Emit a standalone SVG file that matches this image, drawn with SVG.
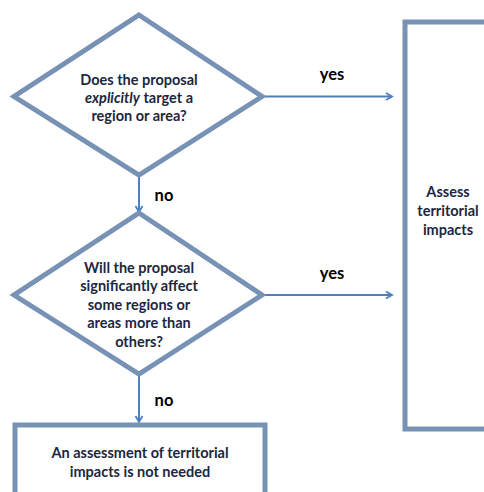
<svg xmlns="http://www.w3.org/2000/svg" width="484" height="492" viewBox="0 0 484 492">
<style>
.shape{fill:#fff;stroke:#7892b5;stroke-width:5}
.conn{stroke:#4f7fbd;stroke-width:2;fill:none;marker-end:url(#arr)}
.t{font-family:Lato,"Liberation Sans",sans-serif;font-weight:bold;font-size:14.5px;fill:#1c2740;text-anchor:middle}
.lbl{font-family:Lato,"Liberation Sans",sans-serif;font-weight:bold;font-size:16.5px;fill:#000;text-anchor:middle}
</style>
<defs>
<marker id="arr" markerWidth="10" markerHeight="10" refX="8" refY="5" orient="auto" markerUnits="userSpaceOnUse">
<polyline points="2,1.5 8,5 2,8.5" fill="none" stroke="#4f7fbd" stroke-width="1.8"/>
</marker>
</defs>
<rect width="484" height="492" fill="#fff"/>
<g id="connectors">
<line class="conn" x1="139" y1="176" x2="139" y2="212"/>
<line class="conn" x1="139" y1="375" x2="139" y2="422"/>
<line class="conn" x1="262" y1="96.5" x2="392" y2="96.5"/>
<line class="conn" x1="262" y1="295" x2="392" y2="295"/>
<text class="lbl" x="164" y="201">no</text>
<text class="lbl" x="164" y="406">no</text>
<text class="lbl" x="332" y="80">yes</text>
<text class="lbl" x="332" y="279">yes</text>
</g>
<g id="q1">
<polygon class="shape" points="139,15 262,96.5 139,175 14,96.5"/>
<text class="t" x="139" y="85">Does the proposal</text>
<text class="t" x="139" y="103"><tspan font-style="italic">explicitly</tspan> target a</text>
<text class="t" x="139" y="121">region or area?</text>
</g>
<g id="q2">
<polygon class="shape" points="139,213 262,295 139,374 14,295"/>
<text class="t" x="139" y="273">Will the proposal</text>
<text class="t" x="139" y="291">significantly affect</text>
<text class="t" x="139" y="310">some regions or</text>
<text class="t" x="139" y="328">areas more than</text>
<text class="t" x="139" y="347">others?</text>
</g>
<g id="assess">
<rect class="shape" x="405" y="22" width="90" height="407"/>
<text class="t" x="448" y="197">Assess</text>
<text class="t" x="448" y="216">territorial</text>
<text class="t" x="448" y="235">impacts</text>
</g>
<g id="notneeded">
<rect class="shape" x="15" y="425" width="250" height="80"/>
<text class="t" x="140" y="458">An assessment of territorial</text>
<text class="t" x="140" y="477">impacts is not needed</text>
</g>
</svg>
